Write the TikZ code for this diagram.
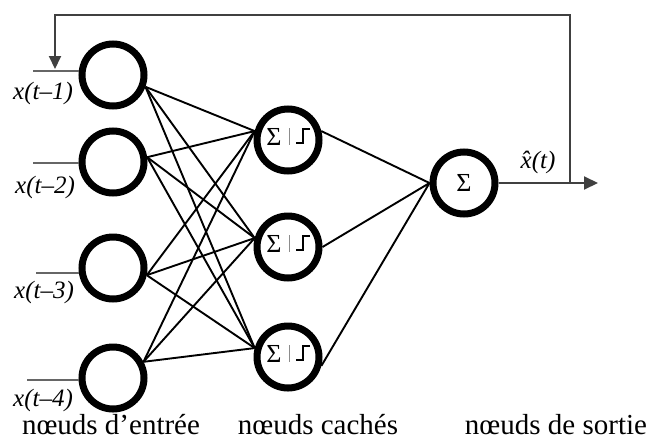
\documentclass[tikz,border=0pt]{standalone}
\usepackage{fontspec}
\setmainfont{Liberation Serif}
\usetikzlibrary{arrows.meta}
\begin{document}
\begin{tikzpicture}[x=1pt,y=-1pt,
  neuron/.style={circle,draw,line width=7pt,minimum size=62pt,inner sep=0pt},
  conn/.style={line width=1.9pt},
  inln/.style={line width=1.4pt,black!60},
  fb/.style={line width=2pt,black!75},
  sig/.style={font=\fontsize{26}{26}\selectfont},
  inlab/.style={font=\fontsize{25}{25}\selectfont\itshape,inner sep=1pt},
  botlab/.style={font=\fontsize{29}{29}\selectfont,anchor=base,inner sep=1pt}]
\useasboundingbox (0,0) rectangle (652,442);
% input nodes
\node[neuron] (i1) at (113,75) {};
\node[neuron] (i2) at (113,162) {};
\node[neuron] (i3) at (113,268) {};
\node[neuron] (i4) at (113,378) {};
% hidden nodes
\node[neuron] (h1) at (288,140) {};
\node[neuron] (h2) at (288,247) {};
\node[neuron] (h3) at (288,357) {};
% output node
\node[neuron] (o) at (464,183) {};
% symbols in hidden nodes
\foreach \h in {h1,h2,h3}{
  \node[sig] at ([xshift=-14pt,yshift=3pt]\h.center) {Σ};
  \draw[line width=0.8pt,black!45] ([xshift=1pt,yshift=12pt]\h.center) -- ([xshift=1pt,yshift=-5pt]\h.center);
  \draw[line width=2pt] ([xshift=8pt,yshift=-3pt]\h.center) -- ([xshift=15pt,yshift=-3pt]\h.center)
     -- ([xshift=15pt,yshift=11pt]\h.center) -- ([xshift=22pt,yshift=11pt]\h.center);
}
\node[sig] at (o.center) {Σ};
% connections input -> hidden
\foreach \i/\a in {i1/-20,i2/8,i3/-12,i4/28}{
  \foreach \h in {h1,h2,h3}{
    \draw[conn] (\i.\a) -- (\h.165);
  }
}
% hidden -> output
\foreach \h/\a in {h1/15,h2/0,h3/-15}{
  \draw[conn] (\h.\a) -- (o.west);
}
% input lines
\coordinate (s1) at (33,71);
\coordinate (s2) at (33,163);
\coordinate (s3) at (36,273);
\coordinate (s4) at (27,380);
\draw[inln] (s1) -- (i1.west |- s1);
\draw[inln] (s2) -- (i2.west |- s2);
\draw[inln] (s3) -- (i3.west |- s3);
\draw[inln] (s4) -- (i4.west |- s4);
% output arrow and feedback
\coordinate (tip) at (598,183);
\coordinate (fbx) at (570,183);
\coordinate (fbtr) at (570,15);
\coordinate (fbtl) at (55,15);
\coordinate (fbend) at (55,69);
\draw[fb,-{Triangle[length=14pt,width=13pt]}] (o.east) -- (tip);
\draw[fb,-{Triangle[length=13pt,width=12pt]}] (fbx) -- (fbtr) -- (fbtl) -- (fbend);
% labels
\node[inlab] (l1) at (43,93) {x(t–1)};
\node[inlab] (l2) at (45,187) {x(t–2)};
\node[inlab] (l3) at (44,292) {x(t–3)};
\node[inlab] (l4) at (43,400) {x(t–4)};
\node[inlab] (lo) at (538,162) {\^{x}(t)};
\node[botlab] (b1) at (111,434) {nœuds d’entrée};
\node[botlab] (b2) at (318,434) {nœuds cachés};
\node[botlab] (b3) at (556,434) {nœuds de sortie};
\end{tikzpicture}
\end{document}
